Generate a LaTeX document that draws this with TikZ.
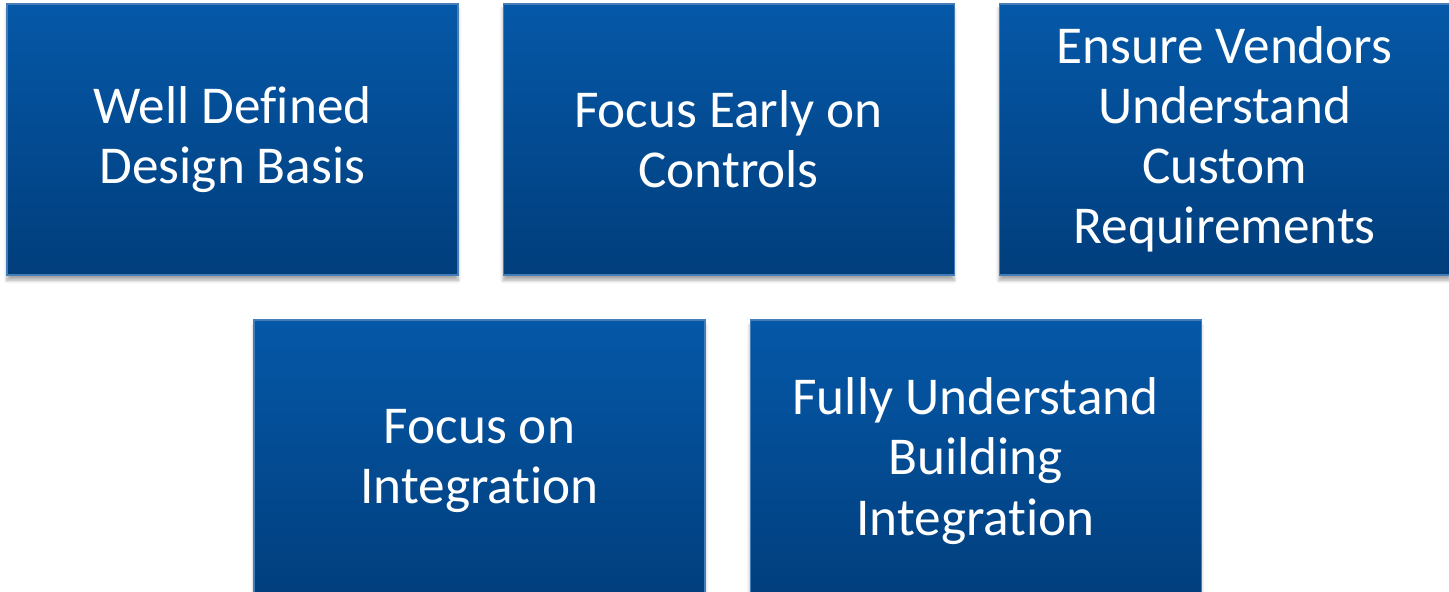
\documentclass[tikz,border=0pt]{standalone}
\usepackage{fontspec}
\setmainfont[Ligatures=NoCommon]{Carlito}
\usetikzlibrary{positioning,shadows.blur}
\definecolor{boxtop}{RGB}{5,88,168}
\definecolor{boxbottom}{RGB}{1,62,124}
\definecolor{boxline}{RGB}{70,125,185}
\tikzset{
  goalbox/.style={rectangle, draw=boxline, line width=0.6pt,
    top color=boxtop, bottom color=boxbottom,
    minimum width=9.02cm, minimum height=5.42cm, inner sep=0pt,
    text=white, align=center, font=\fontsize{30.3}{34.2}\selectfont,
    blur shadow={shadow xshift=0pt, shadow yshift=-3pt, shadow blur steps=6, shadow opacity=35}}
}
\begin{document}
\begin{tikzpicture}
  \useasboundingbox (0,0) rectangle (28.98,11.82);
  % first row
  \node[goalbox] (basis) at (4.65,9.03) {Well Defined\\Design Basis};
  \node[goalbox, right=0.88cm of basis] (controls) {Focus Early on\\Controls};
  \node[goalbox, right=0.88cm of controls] (vendors) {Ensure Vendors\\Understand\\Custom\\Requirements};
  % second row (runs past the bottom edge)
  \node[goalbox, minimum height=5.64cm] (integration) at (9.59,2.60) {Focus on\\Integration};
  \node[goalbox, minimum height=5.64cm, right=0.88cm of integration] (building) {Fully Understand\\Building\\Integration};
\end{tikzpicture}
\end{document}
